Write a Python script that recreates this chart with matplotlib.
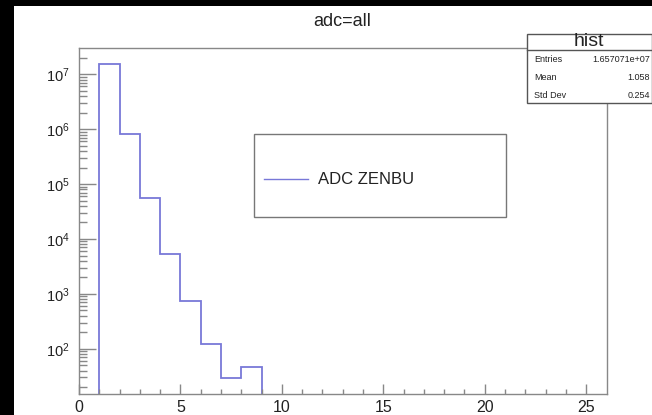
import matplotlib
matplotlib.use("Agg")
import matplotlib.pyplot as plt
from matplotlib.patches import Rectangle
from matplotlib.lines import Line2D
import numpy as np

plt.style.use('default')
plt.rcParams['font.family'] = ['Liberation Sans', 'DejaVu Sans']
plt.rcParams['mathtext.fontset'] = 'custom'
plt.rcParams['mathtext.rm'] = 'Liberation Sans'

# histogram "hist", unit bins
bin_edges = [1, 2, 3, 4, 5, 6, 7, 8, 9]
counts = [1.5678e7, 8.3e5, 5.6e4, 5.4e3, 7.5e2, 124, 29, 47]
stat_names = ["Entries", "Mean", "Std Dev"]
stat_values = ["1.657071e+07", "1.058", "0.254"]
title = "adc=all"
legend_label = "ADC ZENBU"

W, H = 652, 415
fig = plt.figure(figsize=(W / 100, H / 100), dpi=100)

def fx(px):
    return px / W

def fy(py):
    return 1 - py / H

# opaque white canvas, then the black screenshot strips on left and top
fig.add_artist(Rectangle((0, 0), 1, 1, transform=fig.transFigure, facecolor='white',
                         edgecolor='none', zorder=-20))
fig.add_artist(Rectangle((0, 0), fx(14), 1, transform=fig.transFigure, facecolor='black',
                         edgecolor='none', zorder=5))
fig.add_artist(Rectangle((0, fy(6)), 1, 6 / H, transform=fig.transFigure, facecolor='black',
                         edgecolor='none', zorder=5))

# axes box in pixels
ax_l, ax_r, ax_t, ax_b = 79, 606.5, 48.5, 394
ax = fig.add_axes([fx(ax_l), fy(ax_b), fx(ax_r) - fx(ax_l), fy(ax_t) - fy(ax_b)])
ax.set_facecolor('white')

line_col = '#7878d8'
ax.stairs(counts, bin_edges, baseline=1, color=line_col, linewidth=1.3)
ax.set_yscale('log')
ax.set_xlim(0, 26)
ax.set_ylim(15, 2.95e7)

frame_col = '#888888'
for s in ['left', 'bottom', 'right', 'top']:
    ax.spines[s].set_color(frame_col)
    ax.spines[s].set_linewidth(1.0)

ax.set_xticks([0, 5, 10, 15, 20, 25])
ax.set_xticks(np.arange(0, 26, 1), minor=True)
ax.set_yticks([1e2, 1e3, 1e4, 1e5, 1e6, 1e7])
ax.yaxis.set_major_formatter(matplotlib.ticker.LogFormatterMathtext())
ax.yaxis.set_minor_locator(matplotlib.ticker.LogLocator(base=10, subs=np.arange(2, 10), numticks=20))
ax.yaxis.set_minor_formatter(matplotlib.ticker.NullFormatter())
ax.tick_params(axis='x', which='major', direction='in', length=7, width=1, color=frame_col,
               labelsize=11.5, labelcolor='#222222', pad=4, top=False)
ax.tick_params(axis='x', which='minor', direction='in', length=3.5, width=1, color=frame_col, top=False)
ax.tick_params(axis='y', which='major', direction='in', length=12, width=1, color=frame_col,
               labelsize=10.5, labelcolor='#222222', pad=7, right=False)
ax.tick_params(axis='y', which='minor', direction='in', length=6, width=1, color=frame_col, right=False)

fig.text(fx(342.5), fy(21), title, ha='center', va='center', fontsize=13, color='#222222')

# stats box
sb_l, sb_r, sb_t, sb_b, sb_h = 527, 651.5, 34, 103, 50
fig.add_artist(Rectangle((fx(sb_l), fy(sb_b)), fx(sb_r) - fx(sb_l), fy(sb_t) - fy(sb_b),
                         transform=fig.transFigure, facecolor='white', edgecolor='#555555',
                         linewidth=1.0, zorder=6))
fig.add_artist(Line2D([fx(sb_l), fx(sb_r)], [fy(sb_h), fy(sb_h)], transform=fig.transFigure,
                      color='#555555', linewidth=1.0, zorder=7))
fig.text(fx((sb_l + sb_r) / 2), fy(42), "hist", ha='center', va='center', fontsize=14,
         color='#222222', zorder=8)
for i, (nm, val) in enumerate(zip(stat_names, stat_values)):
    yy = fy(60 + i * 17.5)
    fig.text(fx(534), yy, nm, ha='left', va='center', fontsize=6.5, color='#222222', zorder=8)
    fig.text(fx(650), yy, val, ha='right', va='center', fontsize=6.5, color='#222222', zorder=8)

# legend box
lg_l, lg_r, lg_t, lg_b = 254, 506, 134, 217
fig.add_artist(Rectangle((fx(lg_l), fy(lg_b)), fx(lg_r) - fx(lg_l), fy(lg_t) - fy(lg_b),
                         transform=fig.transFigure, facecolor='white', edgecolor='#777777',
                         linewidth=1.0, zorder=6))
fig.add_artist(Line2D([fx(264), fx(308)], [fy(179), fy(179)], transform=fig.transFigure,
                      color=line_col, linewidth=1.0, zorder=7))
fig.text(fx(318), fy(179), legend_label, ha='left', va='center', fontsize=12,
         color='#222222', zorder=8)

fig.savefig("out.png", dpi=100, facecolor='white')
